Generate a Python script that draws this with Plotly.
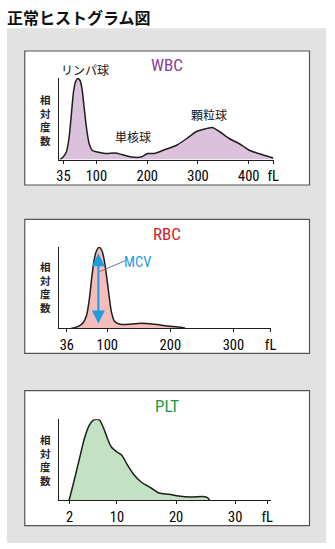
import plotly.graph_objects as go

W, H = 335, 549

# ---------------- data ----------------
wbc_x = [27.9, 34.4, 40.7, 45.9, 50.4, 54.8, 58.7, 63.2, 67.7, 71.5, 76, 80.6, 85.6, 92,
         101.7, 117.7, 137, 149.8, 169, 188.3, 201, 214, 233, 258.8, 278, 297, 310, 328,
         342, 361.5, 380.7, 390, 400, 419, 438.5, 448]
wbc_y = [0, 2.5, 7.5, 21, 44, 67.5, 77.5, 81, 79, 71, 51, 31, 16, 9,
         7.5, 6, 6.5, 5, 2.5, 2.5, 6, 6, 9.5, 14.5, 21, 28, 30, 32,
         28, 21, 16, 13, 9.5, 6, 3, 1.5]
wbc_ticks = [35, 100, 200, 300, 400, 448]
wbc_ticktext = ["35", "100", "200", "300", "400", "fL"]

rbc_x = [43.2, 53.5, 61.3, 67.4, 71.5, 75.7, 79.3, 82.9, 87, 91.2, 94.8, 98.4, 102.5,
         106.6, 111.8, 120.6, 138.6, 154, 174.7, 195.4, 216, 223.7]
rbc_y = [0, 1.7, 5, 13.3, 28.3, 51.7, 68.3, 77.3, 81, 78.3, 70, 55, 35,
         16.7, 6.7, 4, 4.3, 5, 4, 2.3, 1, 0]
rbc_ticks = [36, 100, 200, 300, 359]
rbc_ticktext = ["36", "100", "200", "300", "fL"]
mcv_value = 86

plt_x = [1.91, 2.13, 2.84, 3.66, 4.49, 5.31, 5.97, 6.53, 7.08, 7.79, 8.51, 9.06, 10,
         10.82, 11.65, 12.74, 14.1, 15.78, 17.15, 18.8, 20.45, 22.38, 24.85, 25.4, 25.68]
plt_y = [0, 5, 21.6, 41.6, 61.6, 75, 80, 81, 80, 71.6, 60, 53.3, 48.3,
         45, 36.6, 26.6, 18.3, 12.3, 7.3, 6, 4.3, 3.3, 3.6, 2.3, 0]
plt_ticks = [2, 10, 20, 30, 35.4]
plt_ticktext = ["2", "10", "20", "30", "fL"]

title_text = "正常ヒストグラム図"
ylabel_chars = ["相", "対", "度", "数"]

# ---------------- helpers ----------------
def px(x):
    return x / W

def py(y):
    return 1 - y / H

JP = "Noto Sans CJK JP"
NUM = "Liberation Sans Narrow, Roboto Condensed, Arial Narrow, Liberation Sans, sans-serif"
LINE = "#1e1e1e"

panels = [
    dict(name="WBC", x=wbc_x, y=wbc_y, color="#8b3c96", fill="#dbc1dc",
         tv=wbc_ticks, tt=wbc_ticktext, xd=(57.7, 277.5), yd=(159.5, 78),
         xr=[26.9, 449.5], yr=[0, 81.5], lab=(168, 64.5), box=(22.3, 51, 314, 185),
         yl=120.3),
    dict(name="RBC", x=rbc_x, y=rbc_y, color="#d42027", fill="#f5bcbc",
         tv=rbc_ticks, tt=rbc_ticktext, xd=(57.5, 274.8), yd=(328.3, 247),
         xr=[23.8, 360.0], yr=[0, 81.3], lab=(168.3, 234), box=(22.3, 219.3, 314, 353.3),
         yl=286.7),
    dict(name="PLT", x=plt_x, y=plt_y, color="#1d9a44", fill="#c3e2c3",
         tv=plt_ticks, tt=plt_ticktext, xd=(57.7, 275), yd=(500.3, 419.3),
         xr=[0.26, 36.13], yr=[0, 81], lab=(168.3, 405.8), box=(22.3, 390.7, 314, 525.7),
         yl=460),
]

fig = go.Figure()
shapes = []
annotations = []

# gray background panel
shapes.append(dict(type="rect", xref="paper", yref="paper", x0=px(4), x1=px(331),
                   y0=py(543), y1=py(28.3), fillcolor="#e1e2e1", line=dict(width=0),
                   layer="below"))

layout_axes = {}
for i, p in enumerate(panels, start=1):
    xa = "x" if i == 1 else f"x{i}"
    ya = "y" if i == 1 else f"y{i}"
    xkey = "xaxis" if i == 1 else f"xaxis{i}"
    ykey = "yaxis" if i == 1 else f"yaxis{i}"
    fig.add_trace(go.Scatter(x=p["x"], y=p["y"], xaxis=xa, yaxis=ya, mode="lines",
                             line=dict(color=LINE, width=1.5, shape="spline", smoothing=0.7),
                             fill="tozeroy", fillcolor=p["fill"], hoverinfo="skip",
                             showlegend=False))
    layout_axes[xkey] = dict(domain=[px(p["xd"][0]), px(p["xd"][1])], range=p["xr"],
                             anchor=ya, showgrid=False, zeroline=False, showline=True,
                             linecolor=LINE, linewidth=1, ticks="outside", ticklen=3,
                             tickwidth=1, tickcolor=LINE, tickvals=p["tv"], ticktext=p["tt"],
                             tickfont=dict(family=NUM, size=14.5, color="#000"),
                             fixedrange=True)
    layout_axes[ykey] = dict(domain=[py(p["yd"][0]), py(p["yd"][1])], range=p["yr"],
                             anchor=xa, showgrid=False, zeroline=False, showline=True,
                             linecolor=LINE, linewidth=1, ticks="", showticklabels=False,
                             fixedrange=True)
    # white box
    bx0, by0, bx1, by1 = p["box"]
    shapes.append(dict(type="rect", xref="paper", yref="paper", x0=px(bx0), x1=px(bx1),
                       y0=py(by1), y1=py(by0), fillcolor="white",
                       line=dict(color="#555555", width=1.2), layer="below"))
    # panel name
    annotations.append(dict(text=p["name"], xref="paper", yref="paper", x=px(p["lab"][0]),
                            y=py(p["lab"][1]), showarrow=False, xanchor="center",
                            yanchor="middle", font=dict(family=NUM, size=17, color=p["color"])))
    # vertical y label (stacked characters)
    annotations.append(dict(text="<b>" + "<br>".join(ylabel_chars) + "</b>", xref="paper",
                            yref="paper", x=px(43.3), y=py(p["yl"]), showarrow=False,
                            xanchor="center", yanchor="middle", align="center",
                            font=dict(family=JP, size=10.5, color="#222")))

fig.update_layout(**layout_axes)

# WBC cell type labels
for txt, (lx, ly) in [("リンパ球", (84, 69.5)), ("単核球", (133, 136)), ("顆粒球", (211, 114.5))]:
    annotations.append(dict(text=txt, xref="paper", yref="paper", x=px(lx), y=py(ly),
                            showarrow=False, xanchor="center", yanchor="middle",
                            font=dict(family=JP, size=12, color="#111")))

# MCV arrow (RBC)
annotations.append(dict(text="", x=mcv_value, y=75, ax=mcv_value, ay=3.3, xref="x2", yref="y2",
                        axref="x2", ayref="y2", showarrow=True, arrowhead=2, arrowside="end+start",
                        arrowsize=1.3, arrowwidth=2, arrowcolor="#1f9be0"))
shapes.append(dict(type="line", xref="x2", yref="y2", x0=mcv_value + 2, y0=56.6,
                   x1=128.3, y1=67.6, line=dict(color="#777777", width=1)))
annotations.append(dict(text="MCV", xref="paper", yref="paper", x=px(138.3), y=py(262.3),
                        showarrow=False, xanchor="center", yanchor="middle",
                        font=dict(family=NUM, size=14.5, color="#1f9be0")))

# title
annotations.append(dict(text="<b>" + title_text + "</b>", xref="paper", yref="paper", x=px(2.5),
                        y=py(17), showarrow=False, xanchor="left", yanchor="middle",
                        font=dict(family=JP, size=16, color="#111")))

fig.update_layout(width=W, height=H, margin=dict(l=0, r=0, t=0, b=0, pad=0),
                  paper_bgcolor="white", plot_bgcolor="rgba(0,0,0,0)",
                  shapes=shapes, annotations=annotations, showlegend=False)

fig.write_html("out.html", config={"displayModeBar": False})
